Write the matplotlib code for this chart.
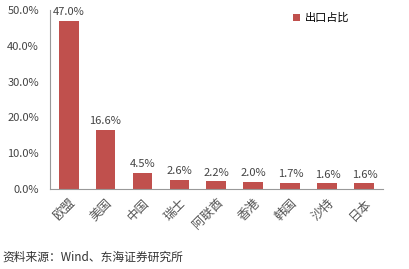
import matplotlib
matplotlib.use("Agg")
import matplotlib.pyplot as plt
from matplotlib.ticker import FuncFormatter

plt.rcParams['font.family'] = ['Noto Sans CJK SC', 'DejaVu Sans']

# data
countries = ["欧盟", "美国", "中国", "瑞士", "阿联酋", "香港", "韩国", "沙特", "日本"]
shares = [47.0, 16.6, 4.5, 2.6, 2.2, 2.0, 1.7, 1.6, 1.6]
yticks = [0, 10, 20, 30, 40, 50]

bar_color = "#C0504D"

fig = plt.figure(figsize=(4.10, 2.69), dpi=100)
ax = fig.add_axes([0.122, 0.297, 0.812, 0.666])

x = list(range(len(countries)))
ax.bar(x, shares, width=0.54, color=bar_color, label="出口占比")

for xi, v in zip(x, shares):
    ax.text(xi, v + 1.0, "%.1f%%" % v, ha="center", va="bottom", fontsize=8, color="#444444")

ax.set_xlim(-0.5, len(countries) - 0.5)
ax.set_ylim(0, 50)
ax.set_yticks(yticks)
ax.yaxis.set_major_formatter(FuncFormatter(lambda v, p: "%.1f%%" % v))
ax.set_xticks(x)
ax.set_xticklabels(countries, rotation=45, ha="right", rotation_mode="anchor", fontsize=9, color="#555555")
ax.tick_params(axis="y", labelsize=8, labelcolor="#444444", length=0, pad=8)
ax.tick_params(axis="x", length=0, pad=5)

for s in ["top", "right"]:
    ax.spines[s].set_visible(False)
for s in ["left", "bottom"]:
    ax.spines[s].set_color("#999999")
    ax.spines[s].set_linewidth(0.8)

ax.legend(loc="upper left", bbox_to_anchor=(0.70, 1.04), frameon=False, fontsize=8,
          handlelength=0.6, handleheight=0.6, handletextpad=0.5)

fig.text(0.005, 0.03, "资料来源：Wind、东海证券研究所", fontsize=8.5, color="#333333")

plt.savefig("out.png", dpi=100)
